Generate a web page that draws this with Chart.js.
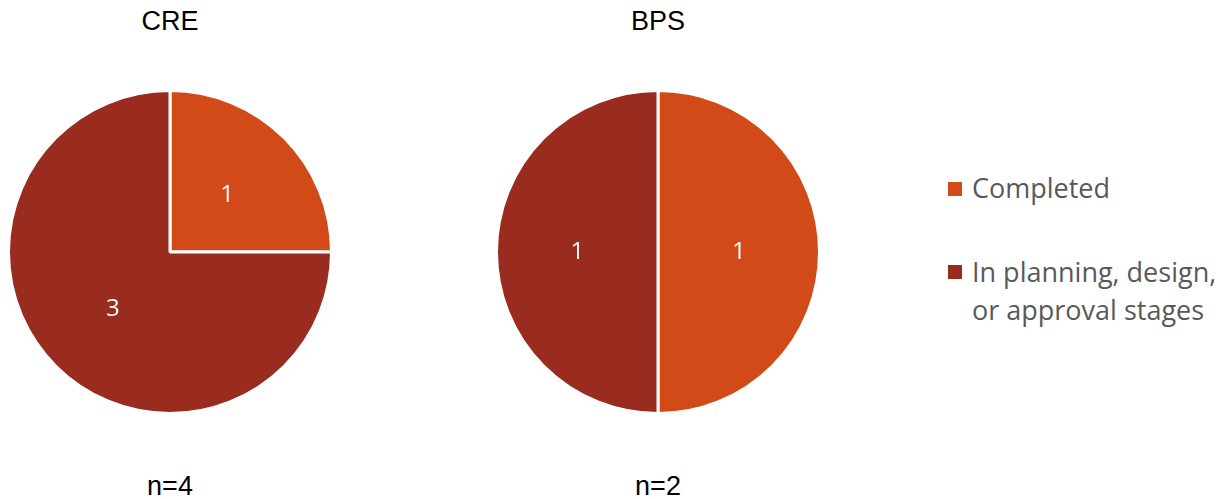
<!DOCTYPE html>
<html>
<head>
<meta charset="utf-8">
<script src="https://cdn.jsdelivr.net/npm/chart.js@4/dist/chart.umd.min.js"></script>
<style>
  html, body { margin:0; padding:0; background:#fff; width:1226px; height:499px; overflow:hidden; }
  .box { position:absolute; }
  .title { position:absolute; font-family:"Liberation Sans", Arial, sans-serif; font-size:27px; color:#000; text-align:center; width:200px; }
  .legend { position:absolute; left:948px; font-family:"Open Sans", sans-serif; font-size:27px; color:#595959; line-height:38px; }
  .legend .item { position:relative; padding-left:24px; }
  .legend .sw { position:absolute; left:0; width:14px; height:14px; }
</style>
</head>
<body>
<div class="title" style="left:70px; top:6px;">CRE</div>
<div class="title" style="left:558px; top:6px;">BPS</div>
<div class="title" style="left:70px; top:471px;">n=4</div>
<div class="title" style="left:558px; top:471px;">n=2</div>
<div class="box" style="left:7px; top:89px; width:326px; height:326px;"><canvas id="c1"></canvas></div>
<div class="box" style="left:495px; top:89px; width:326px; height:326px;"><canvas id="c2"></canvas></div>
<div class="legend">
  <div class="item" id="lg1" style="position:absolute; top:169px; white-space:nowrap;"><span class="sw" style="top:13px;"></span>Completed</div>
  <div class="item" id="lg2" style="position:absolute; top:253px; white-space:nowrap;"><span class="sw" style="top:12px;"></span>In planning, design,<br>or approval stages</div>
</div>
<script>
const categories = ["Completed", "In planning, design, or approval stages"];
const colors = ["#D14A18", "#9A2B1F"];
const creValues = [1, 3];
const bpsValues = [1, 1];

document.querySelector('#lg1 .sw').style.background = colors[0];
document.querySelector('#lg2 .sw').style.background = colors[1];

const labelPlugin = {
  id: 'sliceLabels',
  afterDatasetsDraw(chart) {
    const ctx = chart.ctx;
    const meta = chart.getDatasetMeta(0);
    ctx.save();
    ctx.fillStyle = '#fff';
    ctx.font = '24px "Open Sans", sans-serif';
    ctx.textAlign = 'center';
    ctx.textBaseline = 'middle';
    meta.data.forEach((arc, i) => {
      const p = arc.tooltipPosition();
      ctx.fillText(String(chart.data.datasets[0].data[i]), p.x, p.y);
    });
    ctx.restore();
  }
};

function makePie(id, values) {
  return new Chart(document.getElementById(id), {
    type: 'pie',
    data: { labels: categories, datasets: [{ data: values, backgroundColor: colors, borderColor: '#fff', borderWidth: 3 }] },
    options: {
      responsive: true, maintainAspectRatio: false, animation: false,
      layout: { padding: 0 },
      plugins: { legend: { display: false }, tooltip: { enabled: false } }
    },
    plugins: [labelPlugin]
  });
}
makePie('c1', creValues);
makePie('c2', bpsValues);
</script>
</body>
</html>
